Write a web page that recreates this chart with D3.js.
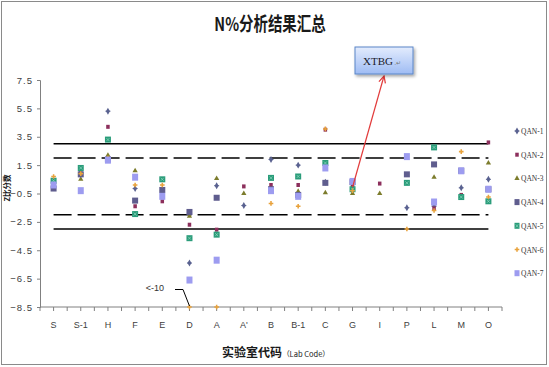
<!DOCTYPE html>
<html>
<head>
<meta charset="utf-8">
<script src="https://d3js.org/d3.v7.min.js"></script>
<style>
  body { margin: 0; background: #fff; }
  svg { display: block; }
</style>
</head>
<body>
<div id="chart"></div>
<script>
// lab codes along the x axis
const labCodes = ['S', 'S-1', 'H', 'F', 'E', 'D', 'A', "A'", 'B', 'B-1', 'C', 'G', 'I', 'P', 'L', 'M', 'O']

// z-scores per QAN series (null = no result); -8.5 is the clipped "<-10"
const qan1 = [0.2, 1.0, 5.3, -0.15, -0.4, -5.4, 0.05, -1.35, 1.9, 1.5, 0.3, -0.3, null, -1.5, -1.4, -0.1, 0.5]
const qan2 = [0.0, 0.8, 4.2, -1.4, -1.05, -2.7, -3.05, 0.0, 0.1, 0.1, 4.0, 0.0, 0.2, 0.3, -1.55, -0.6, 3.1]
const qan3 = [0.3, 0.5, 2.2, 1.1, -0.2, -2.1, 0.55, -0.5, 0.6, -0.35, -0.45, -0.5, -0.5, 0.2, 0.65, -0.7, 1.65]
const qan4 = [-0.15, 0.85, 1.9, -1.0, -0.25, -1.8, -0.8, null, -0.2, -0.6, 0.25, 0.3, null, 0.85, 1.55, 1.1, -0.2]
const qan5 = [0.4, 1.3, 3.3, -1.95, 0.5, -3.65, -3.4, null, 0.6, 0.7, 1.65, -0.2, null, 0.25, 2.75, -0.75, -1.05]
const qan6 = [0.7, 0.9, 2.0, 0.1, 0.1, -8.5, -8.5, null, -1.2, -1.4, 4.05, -0.3, null, -3.0, -1.7, 2.45, -0.75]
const qan7 = [0.1, -0.3, 1.85, 0.65, -0.7, -6.6, -5.2, null, -0.3, -0.7, 1.3, 0.35, null, 2.1, -1.1, 1.1, -0.2]

const seriesNames = ['QAN-1', 'QAN-2', 'QAN-3', 'QAN-4', 'QAN-5', 'QAN-6', 'QAN-7']
const yTicks = [7.5, 5.5, 3.5, 1.5, -0.5, -2.5, -4.5, -6.5, -8.5]
const warnLimits = [2, -2]
const actionLimits = [3, -3]

const W = 549, H = 367
const margin = {left: 40, right: 47, top: 80, bottom: 60}

const series = [qan1, qan2, qan3, qan4, qan5, qan6, qan7].map((vals, i) => ({
  name: seriesNames[i],
  values: vals.map((v, j) => ({code: labCodes[j], v}))
}))

// marker look per series (Excel-ish defaults)
const markerStyle = [
  {color: '#5a6290', shape: 'diamond', w: 5, h: 5},
  {color: '#8c2f5c', shape: 'square', w: 3.5, h: 4},
  {color: '#7c7c2c', shape: 'triangle', w: 4, h: 4},
  {color: '#5f5d8e', shape: 'square', w: 6, h: 6},
  {color: '#2a9c7a', shape: 'squarex', w: 6, h: 6},
  {color: '#e8a23c', shape: 'cross', w: 4, h: 4},
  {color: '#9d9cf0', shape: 'square', w: 6, h: 7},
]

const svg = d3.select('#chart').append('svg')
  .attr('width', W)
  .attr('height', H)

const defs = svg.append('defs')
const grad = defs.append('linearGradient').attr('id', 'boxGrad')
  .attr('x1', 0).attr('y1', 0).attr('x2', 0).attr('y2', 1)
grad.append('stop').attr('offset', '0%').attr('stop-color', '#e3ecfd')
grad.append('stop').attr('offset', '100%').attr('stop-color', '#9fbcf4')
defs.append('filter').attr('id', 'shadow')
  .attr('x', '-20%').attr('y', '-20%').attr('width', '150%').attr('height', '160%')
  .append('feDropShadow')
  .attr('dx', 1.5).attr('dy', 2).attr('stdDeviation', 1.5)
  .attr('flood-color', '#000').attr('flood-opacity', 0.35)
defs.append('marker').attr('id', 'arrow')
  .attr('viewBox', '0 0 10 10').attr('refX', 9).attr('refY', 5)
  .attr('markerWidth', 7).attr('markerHeight', 7).attr('orient', 'auto')
  .append('path').attr('d', 'M1,1 L9,5 L1,9')
  .attr('fill', 'none').attr('stroke', '#e23b3b').attr('stroke-width', 1.5)

// chart border
svg.append('rect')
  .attr('x', 1.5).attr('y', 1.5)
  .attr('width', W - 4).attr('height', H - 4)
  .attr('fill', '#fff').attr('stroke', '#8a8a8a')

const x = d3.scaleBand()
  .domain(labCodes)
  .range([margin.left, W - margin.right])
const y = d3.scaleLinear()
  .domain([-8.5, 7.5])
  .range([H - margin.bottom, margin.top])

const cx = code => x(code) + x.bandwidth() / 2

// title
svg.append('text')
  .attr('transform', `translate(270,31) scale(0.76,1)`)
  .attr('text-anchor', 'middle')
  .attr('font-family', '"Noto Sans CJK SC", sans-serif')
  .attr('font-weight', 'bold')
  .attr('font-size', 19)
  .attr('fill', '#1a1a1a')
  .text('N%分析结果汇总')

// y axis
const yAxis = svg.append('g')
  .attr('transform', `translate(${margin.left},0)`)
  .call(d3.axisLeft(y).tickValues(yTicks).tickFormat(d3.format('.1f')).tickSize(3).tickPadding(4))
yAxis.select('.domain').attr('stroke', '#808080')
yAxis.selectAll('.tick line').attr('stroke', '#808080')
yAxis.selectAll('.tick text')
  .attr('font-family', '"Liberation Sans", sans-serif')
  .attr('font-size', 9.5)
  .attr('letter-spacing', 1)
  .attr('fill', '#404040')

// x axis: ticks every half category
const xAxisY = y(-8.5)
const xg = svg.append('g')
xg.append('line')
  .attr('x1', margin.left).attr('x2', W - margin.right)
  .attr('y1', xAxisY).attr('y2', xAxisY)
  .attr('stroke', '#808080')
const halfSteps = d3.range(0, labCodes.length * 2 + 1)
xg.selectAll('line.tick')
  .data(halfSteps)
  .join('line')
  .attr('class', 'tick')
  .attr('x1', d => margin.left + d * x.bandwidth() / 2)
  .attr('x2', d => margin.left + d * x.bandwidth() / 2)
  .attr('y1', xAxisY).attr('y2', xAxisY + 4)
  .attr('stroke', '#808080')
xg.selectAll('text')
  .data(labCodes)
  .join('text')
  .attr('x', cx)
  .attr('y', xAxisY + 21)
  .attr('text-anchor', 'middle')
  .attr('font-family', '"Liberation Sans", sans-serif')
  .attr('font-size', 9)
  .attr('fill', '#404040')
  .text(d => d)

// axis titles
svg.append('text')
  .attr('x', 276).attr('y', 357)
  .attr('text-anchor', 'middle')
  .attr('font-family', '"Noto Sans CJK SC", sans-serif')
  .attr('font-weight', 'bold')
  .attr('font-size', 12)
  .attr('fill', '#1a1a1a')
  .call(t => {
    t.append('tspan').text('实验室代码')
    t.append('tspan').attr('font-size', 7.5).attr('font-weight', 'normal').text('（Lab Code）')
  })

svg.append('text')
  .attr('transform', 'translate(10,188) rotate(-90)')
  .attr('text-anchor', 'middle')
  .attr('font-family', '"Noto Sans CJK SC", sans-serif')
  .attr('font-weight', 'bold')
  .attr('font-size', 7.5)
  .attr('fill', '#1a1a1a')
  .text('Z比分数')

// limit lines
const x0 = cx(labCodes[0]), x1 = cx(labCodes[labCodes.length - 1])
svg.selectAll('line.action')
  .data(actionLimits)
  .join('line')
  .attr('class', 'action')
  .attr('x1', x0).attr('x2', x1)
  .attr('y1', d => y(d)).attr('y2', d => y(d))
  .attr('stroke', '#000').attr('stroke-width', 1.5)
svg.selectAll('line.warn')
  .data(warnLimits)
  .join('line')
  .attr('class', 'warn')
  .attr('x1', x0).attr('x2', x1)
  .attr('y1', d => y(d)).attr('y2', d => y(d))
  .attr('stroke', '#000').attr('stroke-width', 1.5)
  .attr('stroke-dasharray', '18,6')

// markers
function drawMarker(sel, st) {
  const c = st.color
  if (st.shape === 'square' || st.shape === 'squarex') {
    sel.append('rect')
      .attr('x', -st.w / 2).attr('y', -st.h / 2)
      .attr('width', st.w).attr('height', st.h)
      .attr('fill', c)
    if (st.shape === 'squarex') {
      sel.append('path')
        .attr('d', `M${-st.w / 4},${-st.h / 4}L${st.w / 4},${st.h / 4}M${st.w / 4},${-st.h / 4}L${-st.w / 4},${st.h / 4}`)
        .attr('stroke', '#9fe0c8').attr('stroke-width', 0.6)
    }
  } else if (st.shape === 'diamond') {
    sel.append('path').attr('d', d3.symbol(d3.symbolDiamond, 14)()).attr('fill', c)
    sel.append('path').attr('d', 'M-2.5,0H2.5').attr('stroke', c).attr('stroke-width', 1)
  } else if (st.shape === 'triangle') {
    sel.append('path').attr('d', d3.symbol(d3.symbolTriangle, 12)()).attr('fill', c)
  } else {
    sel.append('path').attr('d', d3.symbol(d3.symbolCross, 12)()).attr('fill', c)
  }
}

const plot = svg.append('g')
series.forEach((s, i) => {
  const st = markerStyle[i]
  plot.append('g')
    .selectAll('g')
    .data(s.values.filter(d => d.v != null))
    .join('g')
    .attr('transform', d => `translate(${cx(d.code)},${y(d.v)})`)
    .each(function() { drawMarker(d3.select(this), st) })
})

// "<-10" note for lab D
const dX = cx('D')
svg.append('text')
  .attr('x', 155).attr('y', 291)
  .attr('text-anchor', 'middle')
  .attr('font-family', '"Liberation Sans", sans-serif')
  .attr('font-size', 9)
  .attr('fill', '#333')
  .text('<-10')
svg.append('path')
  .attr('d', `M175,289.5H183L${dX},${y(-8.5) - 1}`)
  .attr('fill', 'none').attr('stroke', '#000').attr('stroke-width', 1)

// legend
const legend = svg.append('g')
  .selectAll('g')
  .data(seriesNames)
  .join('g')
  .attr('transform', (d, i) => `translate(517,${131 + i * 23.7})`)
legend.each(function(d, i) {
  const st = markerStyle[i]
  const g = d3.select(this)
  drawMarker(g, {...st, w: Math.min(st.w, 5), h: Math.min(st.h, 6)})
  g.append('text')
    .attr('x', 4).attr('y', 3)
    .attr('font-family', '"Liberation Serif", serif')
    .attr('font-size', 7.5)
    .attr('fill', '#333')
    .text(d)
})

// XTBG callout box + arrow to lab G
const gX = cx('G'), gY = y(qan5[labCodes.indexOf('G')])
svg.append('line')
  .attr('x1', gX).attr('y1', gY - 2)
  .attr('x2', 384).attr('y2', 76)
  .attr('stroke', '#e23b3b').attr('stroke-width', 1.2)
  .attr('marker-end', 'url(#arrow)')
svg.append('rect')
  .attr('x', 355).attr('y', 47)
  .attr('width', 58).attr('height', 27)
  .attr('fill', 'url(#boxGrad)')
  .attr('stroke', '#5b86c8').attr('stroke-width', 1)
  .attr('filter', 'url(#shadow)')
svg.append('text')
  .attr('x', 382).attr('y', 65)
  .attr('text-anchor', 'middle')
  .attr('font-family', '"Liberation Serif", serif')
  .attr('font-size', 11)
  .attr('fill', '#1a1a2a')
  .call(t => {
    t.append('tspan').text('XTBG')
    t.append('tspan').attr('font-size', 6).attr('fill', '#777').text(' .\u21b5')
  })
</script>
</body>
</html>
